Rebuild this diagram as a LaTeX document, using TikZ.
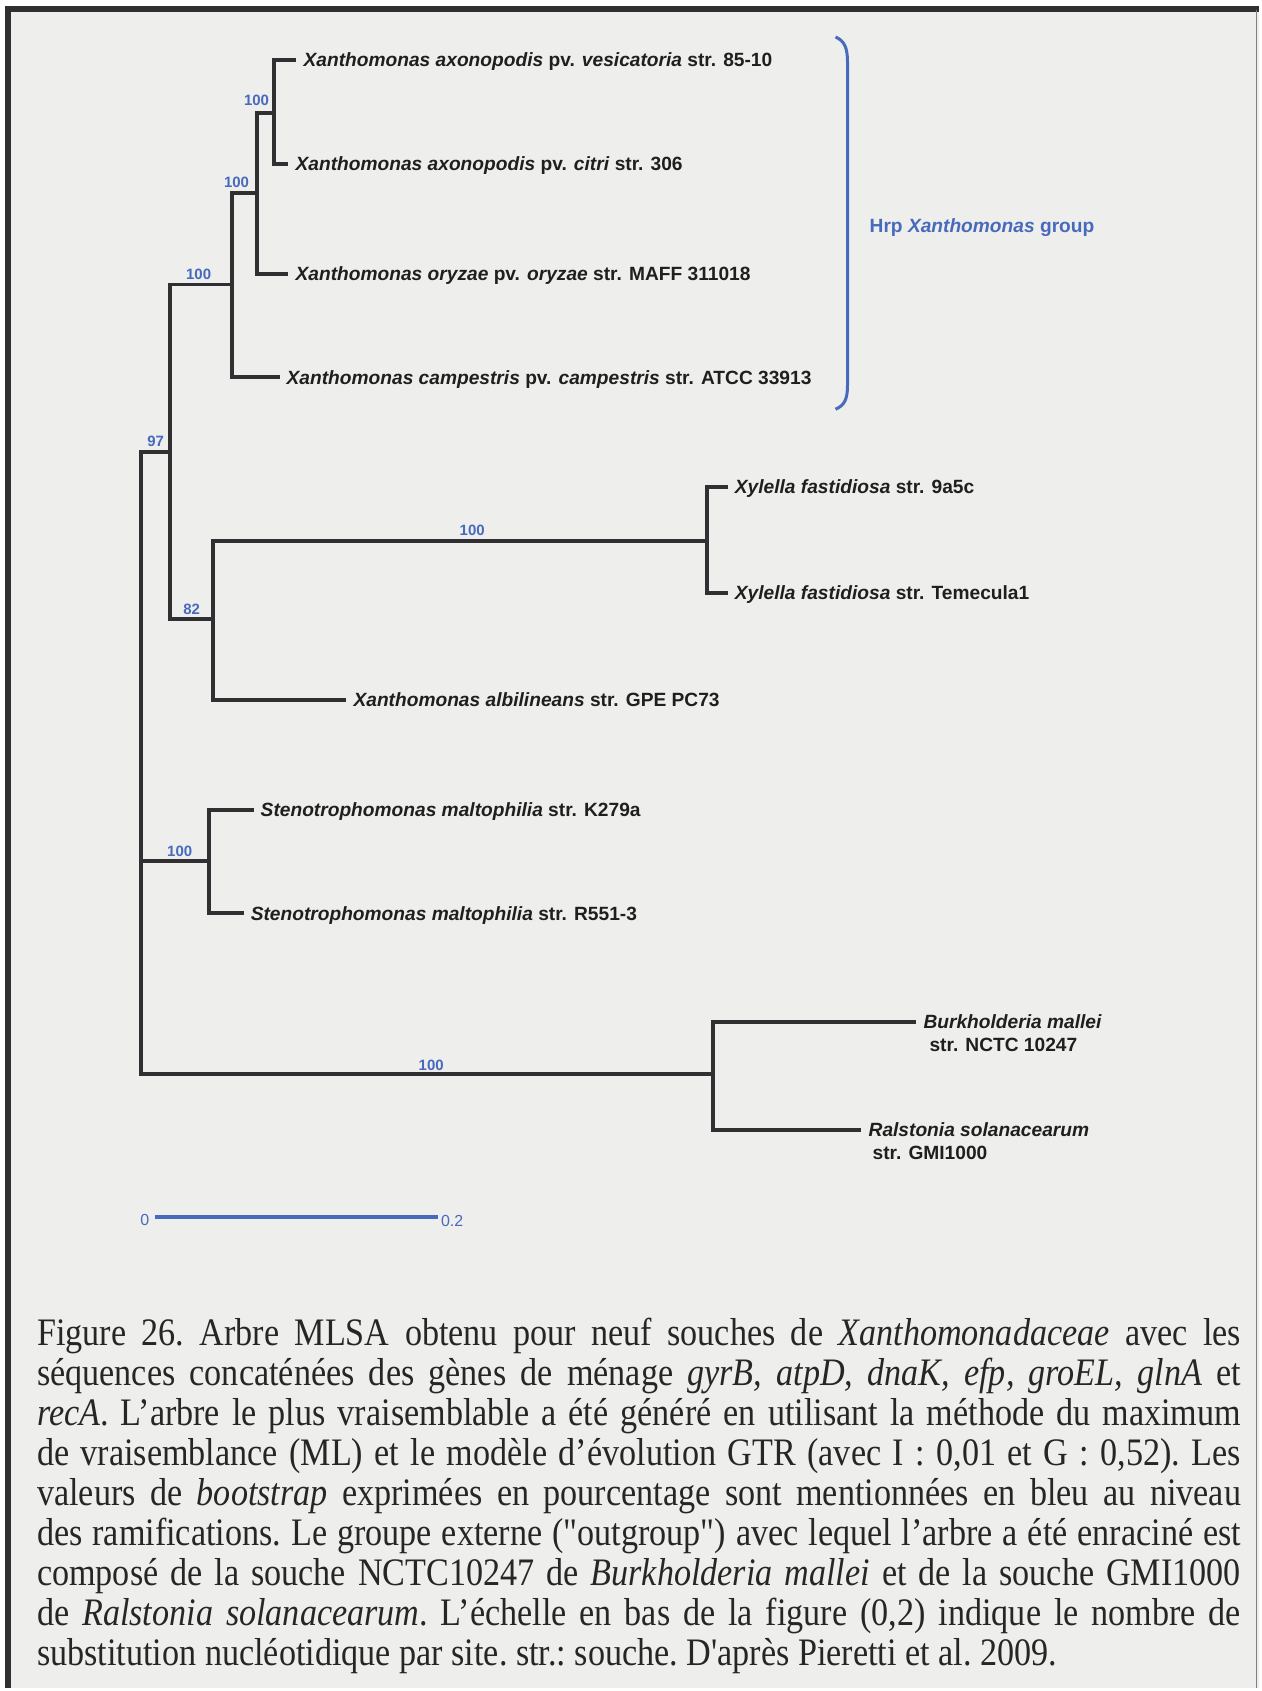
\documentclass[tikz,border=0pt]{standalone}
\usepackage{fontspec}
\newfontfamily\treefont{Liberation Sans}
\newfontfamily\capfont{Liberation Serif}[FakeStretch=0.877]
\definecolor{bootBlue}{RGB}{72,106,188}
\definecolor{branchGray}{RGB}{48,48,50}
\definecolor{paperGray}{RGB}{238,238,236}

\begin{document}
\begin{tikzpicture}[x=1pt, y=-1pt,
    every node/.style={inner sep=0pt},
    branch/.style={draw=branchGray, line width=4pt},
    leaf/.style={anchor=west, inner xsep=7pt, text=black!88,
                 font=\treefont\bfseries\fontsize{19.2}{23}\selectfont,
                 text height=13.7pt, text depth=0pt},
    twoleaf/.style={anchor=west, inner xsep=7pt, yshift=-11.4pt, align=left,
                    text=black!88, font=\treefont\bfseries\fontsize{19.2}{23}\selectfont},
    boot/.style={text=bootBlue, font=\treefont\bfseries\fontsize{15}{15}\selectfont},
    scalelbl/.style={text=bootBlue, font=\treefont\fontsize{16}{16}\selectfont}
  ]
  % Background
  \fill[white] (0,0) rectangle (1261,1691);
  \fill[paperGray] (8,10) rectangle (1261,1691);
  \draw[branchGray, line width=6pt] (8,1691) -- (8,9.5) -- (1261,9.5);
  \draw[gray, line width=1pt] (1259,10) -- (1259,1691);
  \useasboundingbox (0,0) rectangle (1261,1691);

  % Tree nodes
  \coordinate (root) at (141,863);
  \coordinate (n97) at (170,453);
  \coordinate (nX3) at (232,285);
  \coordinate (nX2) at (257,193);
  \coordinate (nX1) at (274,113);
  \coordinate (n82) at (213,620);
  \coordinate (nXyl) at (708,542);
  \coordinate (nSten) at (209,863);
  \coordinate (nOut) at (714,1076);
  \coordinate (burkTip) at (918,1024);
  \coordinate (ralTip) at (863,1132);

  % Leaves
  \node[leaf] (vesic) at (297,60) {\textit{Xanthomonas axonopodis} pv. \textit{vesicatoria} str. 85-10};
  \node[leaf] (citri) at (289,164) {\textit{Xanthomonas axonopodis} pv. \textit{citri} str. 306};
  \node[leaf] (oryzae) at (289,274) {\textit{Xanthomonas oryzae} pv. \textit{oryzae} str. MAFF 311018};
  \node[leaf] (campe) at (280,378) {\textit{Xanthomonas campestris} pv. \textit{campestris} str. ATCC 33913};
  \node[leaf] (xyl9) at (729,488) {\textit{Xylella fastidiosa} str. 9a5c};
  \node[leaf] (xylT) at (729,594) {\textit{Xylella fastidiosa} str. Temecula1};
  \node[leaf] (albi) at (347,701) {\textit{Xanthomonas albilineans} str. GPE PC73};
  \node[leaf] (stenK) at (254,811) {\textit{Stenotrophomonas maltophilia} str. K279a};
  \node[leaf] (stenR) at (244,915) {\textit{Stenotrophomonas maltophilia} str. R551-3};
  \node[twoleaf] (burk) at (burkTip) {\textit{Burkholderia mallei}\\ \hspace*{6pt}str. NCTC 10247};
  \node[twoleaf] (ral) at (ralTip) {\textit{Ralstonia solanacearum}\\ \hspace*{4pt}str. GMI1000};

  % Branches
  \draw[branch] (root) |- (n97);
  \draw[branch] (root) |- (nSten);
  \draw[branch] (root) |- (nOut);
  \draw[branch] (n97) |- (nX3);
  \draw[branch] (n97) |- (n82);
  \draw[branch] (nX3) |- (nX2);
  \draw[branch] (nX3) |- (campe.west);
  \draw[branch] (nX2) |- (nX1);
  \draw[branch] (nX2) |- (oryzae.west);
  \draw[branch] (nX1) |- (vesic.west);
  \draw[branch] (nX1) |- (citri.west);
  \draw[branch] (n82) |- (nXyl);
  \draw[branch] (n82) |- (albi.west);
  \draw[branch] (nXyl) |- (xyl9.west);
  \draw[branch] (nXyl) |- (xylT.west);
  \draw[branch] (nSten) |- (stenK.west);
  \draw[branch] (nSten) |- (stenR.west);
  \draw[branch] (nOut) |- (burkTip);
  \draw[branch] (nOut) |- (ralTip);

  % Bootstrap values
  \node[boot] (bootX1) at (257,101) {100};
  \node[boot] (bootX2) at (237,183) {100};
  \node[boot] (bootX3) at (199,275) {100};
  \node[boot] (boot97) at (156,442) {97};
  \node[boot] (boot82) at (192,610) {82};
  \node[boot] (bootXyl) at (473,531) {100};
  \node[boot] (bootSten) at (180,853) {100};
  \node[boot] (bootOut) at (432,1067) {100};

  % Hrp group bracket
  \draw[bootBlue, line width=3pt] (837,37) .. controls (846,41) and (849,48) .. (849,62)
    -- (849,386) .. controls (849,400) and (846,406) .. (837,410);
  \node[anchor=west, text=bootBlue, font=\treefont\bfseries\fontsize{19.2}{23}\selectfont,
        text height=13.7pt, text depth=0pt] (hrp) at (871,226) {Hrp \textit{Xanthomonas} group};

  % Scale bar
  \coordinate (scaleA) at (155,1219);
  \coordinate (scaleB) at (439,1219);
  \draw[bootBlue, line width=3.5pt] (scaleA) -- (scaleB);
  \node[scalelbl] (scaleZero) at (145,1222) {0};
  \node[scalelbl] (scaleMax) at (453,1223) {0.2};

  % Caption
  \node[anchor=north west, text width=1206pt, align=justify, text=black!85,
        font=\capfont\fontsize{39}{40}\selectfont] (caption) at (37,1320.4)
    {\frenchspacing\tolerance=9999\hyphenpenalty=10000
     Figure 26. Arbre MLSA obtenu pour neuf souches de \textit{Xanthomonadaceae} avec les\linebreak
     séquences concaténées des gènes de ménage \textit{gyrB, atpD, dnaK, efp, groEL, glnA} et\linebreak
     \textit{recA}. L’arbre le plus vraisemblable a été généré en utilisant la méthode du maximum\linebreak
     de vraisemblance (ML) et le modèle d’évolution GTR (avec I : 0,01 et G : 0,52). Les\linebreak
     valeurs de \textit{bootstrap} exprimées en pourcentage sont mentionnées en bleu au niveau\linebreak
     des ramifications. Le groupe externe ("outgroup") avec lequel l’arbre a été enraciné est\linebreak
     composé de la souche NCTC10247 de \textit{Burkholderia mallei} et de la souche GMI1000\linebreak
     de \textit{Ralstonia solanacearum}. L’échelle en bas de la figure (0,2) indique le nombre de\linebreak
     substitution nucléotidique par site. str.: souche. D'après Pieretti et al. 2009.};
\end{tikzpicture}
\end{document}
